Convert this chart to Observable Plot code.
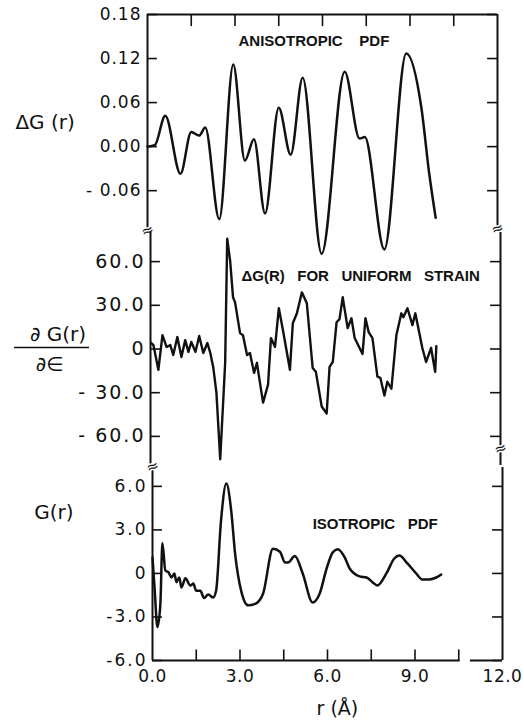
<!DOCTYPE html>
<html>
<head>
<meta charset="utf-8">
<script src="https://cdn.jsdelivr.net/npm/d3@7"></script>
<script src="https://cdn.jsdelivr.net/npm/@observablehq/plot@0.6"></script>
<style>
html, body { margin: 0; padding: 0; background: #fff; }
#chart { position: relative; width: 524px; height: 722px; overflow: hidden; background: #fff; }
#chart svg { position: absolute; left: 0; top: 0; overflow: visible; }
#chart text { white-space: pre; }
#p1 g[aria-label="y-axis tick label"] { letter-spacing: 1px; }
#p2 g[aria-label="y-axis tick label"] { letter-spacing: 2px; }
#p3 g[aria-label="y-axis tick label"] { letter-spacing: 2px; }
#p3 g[aria-label="x-axis tick label"] { letter-spacing: 0.5px; }
#chart g[aria-label="annotation"] { letter-spacing: 1.5px; }
#chart g[aria-label="ytitle"] { letter-spacing: 1.5px; }
</style>
</head>
<body>
<div id="chart"></div>
<script>
// ---------- data ----------
// x tick values / labels (shared r axis, Å)
const xMinorTicks = [1.5, 3, 4.5, 6, 7.5, 9, 10.5];
const xLabelTicks = [0, 3, 6, 9, 12];
const xTickLabels = ["0.0", "3.0", "6.0", "9.0", "12.0"];

// top panel: anisotropic PDF ΔG(r)
const anisoTicks = [0.18, 0.12, 0.06, 0, -0.06];
const anisoTickLabels = ["0.18", "0.12", "0.06", "0.00", "- 0.06"];
const anisoR = [0, 0.25, 0.61, 1.13, 1.50, 1.77, 1.98, 2.46, 2.94, 3.34, 3.65, 4.03, 4.50, 4.91,
  5.32, 5.97, 6.76, 7.27, 7.45, 8.12, 8.87, 9.39, 9.66, 9.88];
const anisoDG = [0, 0.002, 0.042, -0.037, 0.020, 0.015, 0.026, -0.099, 0.112, -0.019, 0.010, -0.091, 0.053, -0.011,
  0.094, -0.146, 0.102, 0.011, 0.013, -0.140, 0.127, 0.053, -0.037, -0.097];

// middle panel: ∂G(r)/∂ε for uniform strain
const strainTicks = [60, 30, 0, -30, -60];
const strainTickLabels = ["60.0", "30.0", "0", "- 30.0", "- 60.0"];
const strainR = [0.03, 0.10, 0.27, 0.41, 0.55, 0.68, 0.78, 0.92, 1.06, 1.19, 1.30, 1.40, 1.54, 1.67, 1.81, 1.95,
  2.05, 2.15, 2.26, 2.39, 2.49, 2.56, 2.63, 2.73, 2.83, 2.90, 3.07, 3.17, 3.31, 3.41, 3.55, 3.65, 3.72, 3.86,
  4.03, 4.13, 4.27, 4.40, 4.54, 4.78, 4.88, 5.02, 5.19, 5.36, 5.56, 5.67, 5.87, 6.04, 6.14, 6.25, 6.38, 6.48,
  6.59, 6.76, 6.89, 7.00, 7.27, 7.37, 7.48, 7.61, 7.78, 7.88, 8.02, 8.12, 8.26, 8.43, 8.60, 8.67, 8.81, 8.98,
  9.08, 9.32, 9.45, 9.62, 9.76, 9.80];
const strainDG = [4.1, 2.7, -14.3, 9.5, 1.4, 2.7, -4.1, 8.2, -5.5, 6.1, -2, 4.8, -2, 8.9, -2.7, 4.1,
  -2.7, -12.3, -30, -75.7, -36.8, -9.5, 75.7, 60.7, 35.5, 32, 10.9, 9.5, -4.1, -2.7, -16.4, -9.5, -19, -36.8,
  -24.5, 7.5, 1.4, 28, 13, -14.3, 17.7, 24.5, 38.9, 31.4, -13, -15.7, -39.5, -44.3, -12.3, -8.9, 18.4, 20.5,
  35.5, 14.3, 21.1, 7.5, -3.4, 21.1, 11.6, 7.5, -19, -19.8, -32, -22.5, -27.3, 9.5, 24.5, 21.8, 28, 16.4,
  24.5, 0.7, -8.9, 0.7, -15.7, 2];

// bottom panel: isotropic PDF G(r)
const isoTicks = [6, 3, 0, -3, -6];
const isoTickLabels = ["6.0", "3.0", "0", "-3.0", "-6.0"];
const isoR = [0, 0.07, 0.17, 0.27, 0.34, 0.44, 0.55, 0.65, 0.75, 0.82, 0.92, 0.99, 1.13, 1.30, 1.40, 1.50,
  1.64, 1.77, 1.91, 2.08, 2.18, 2.35, 2.53, 2.70, 2.83, 3.04, 3.28, 3.52, 3.79, 4.13, 4.37, 4.54, 4.65, 4.88,
  5.15, 5.49, 5.73, 5.97, 6.18, 6.35, 6.59, 6.76, 7.10, 7.34, 7.54, 7.71, 8.02, 8.29, 8.46, 8.74, 9.04, 9.25,
  9.49, 9.73, 9.90];
const isoG = [1.1, -0.97, -3.7, -2.1, 2.1, 0.2, 0.07, -0.28, 0, -0.6, -0.28, -0.97, -0.34, -0.83, -0.7, -1.2,
  -1.2, -1.7, -1.45, -1.66, -1.2, 3.66, 6.2, 4.3, 1.4, -1.2, -2.2, -2.1, -1.4, 1.7, 1.5, 0.76, 0.76, 1.2,
  0, -2.0, -1.4, 0.34, 1.45, 1.66, 1.1, 0.34, -0.2, -0.28, -0.6, -0.83, 0, 1.03, 1.24, 0.69, 0, -0.41,
  -0.41, -0.28, -0.07];

// ---------- drawing ----------
const chart = document.getElementById("chart");
const PLOT_W = 350;          // pixel width of the r = 0..12 span
const TICK = 0.34;           // inward tick length in r units (~10 px)
const FONT = "DejaVu Sans";
const INK = "#111";

function frameMarks(ticks, labels, yLo, yHi, labelSize, pad) {
  const lab = new Map(ticks.map((v, i) => [v, labels[i]]));
  return [
    Plot.ruleX([0], {y1: yLo, y2: yHi, stroke: INK, strokeWidth: 2}),
    Plot.ruleX([12], {y1: yLo, y2: yHi, stroke: INK, strokeWidth: 2}),
    Plot.ruleY(ticks, {x1: 0, x2: TICK, stroke: INK, strokeWidth: 1.6}),
    Plot.ruleY(ticks, {x1: 12 - TICK, x2: 12, stroke: INK, strokeWidth: 1.6}),
    Plot.axisY({ticks, tickSize: 0, tickPadding: pad, tickFormat: d => lab.get(d), label: null,
      fontSize: labelSize, fontFamily: FONT, fill: INK})
  ];
}

function breakMark(x, y) {
  return Plot.text(["≈"], {x, y, text: d => d, fontSize: 15, fill: INK, stroke: "white",
    strokeWidth: 3, rotate: -20, fontFamily: FONT});
}

function annotation(label, x, y) {
  return Plot.text([label], {x, y, text: d => d, textAnchor: "start", fontSize: 15, fontWeight: "bold",
    fontFamily: "Liberation Sans", fill: INK, ariaLabel: "annotation"});
}

function panel(id, o) {
  const svg = Plot.plot({
    width: 524, height: 722,
    marginLeft: o.left, marginRight: 524 - o.left - PLOT_W,
    marginTop: o.top, marginBottom: 722 - o.bottom,
    x: o.xAxis ? {domain: [0, 12]} : {domain: [0, 12], axis: null},
    y: {domain: o.yDomain},
    style: {background: "transparent", overflow: "visible", fontFamily: FONT},
    marks: o.marks
  });
  svg.id = id;
  chart.append(svg);
}

// top panel
panel("p1", {
  left: 147, top: 14, bottom: 232, yDomain: [-0.117, 0.18],
  marks: [
    ...frameMarks(anisoTicks, anisoTickLabels, -0.117, 0.18, 17, 6),
    Plot.ruleY([0.18], {x1: 0, x2: 12, stroke: INK, strokeWidth: 2}),
    Plot.ruleX(xMinorTicks, {y1: 0.18, y2: 0.1635, stroke: INK, strokeWidth: 1.6}),
    Plot.line(anisoR.map((r, i) => [r, anisoDG[i]]), {x: d => d[0], y: d => d[1],
      curve: "monotone-x", stroke: INK, strokeWidth: 2.5}),
    annotation("ANISOTROPIC    PDF", 3.12, 0.143),
    Plot.text(["ΔG (r)"], {x: -3.51, y: 0.033, text: d => d, fontSize: 20, fontFamily: FONT,
      fill: INK, ariaLabel: "ytitle"}),
    breakMark(0, -0.1143),
    breakMark(12, -0.1116)
  ]
});

// middle panel
panel("p2", {
  left: 150, top: 232, bottom: 465, yDomain: [-80, 80],
  marks: [
    ...frameMarks(strainTicks, strainTickLabels, -80, 80, 19, 5),
    Plot.line(strainR.map((r, i) => [r, strainDG[i]]), {x: d => d[0], y: d => d[1],
      curve: "linear", stroke: INK, strokeWidth: 2.4, strokeLinejoin: "round"}),
    annotation("ΔG(R)   FOR   UNIFORM   STRAIN", 3.12, 50),
    Plot.text(["∂ G(r)"], {x: -3.17, y: 10, text: d => d, fontSize: 20, fontFamily: FONT,
      fill: INK, ariaLabel: "ytitle"}),
    Plot.ruleY([1.0], {x1: -4.66, x2: -2.09, stroke: INK, strokeWidth: 1.6}),
    Plot.text(["∂∈"], {x: -3.46, y: -10.6, text: d => d, fontSize: 20, fontFamily: FONT,
      fill: INK, ariaLabel: "ytitle"}),
    breakMark(12, -68.3)
  ]
});

// bottom panel
panel("p3", {
  left: 152, top: 467, bottom: 660, yDomain: [-6, 7.3], xAxis: true,
  marks: [
    ...frameMarks(isoTicks, isoTickLabels, -6, 7.3, 17, 5),
    Plot.ruleY([-6], {x1: 0, x2: 10.55, stroke: INK, strokeWidth: 2}),
    Plot.ruleY([-6], {x1: 10.9, x2: 12, stroke: INK, strokeWidth: 2}),
    Plot.ruleX(xMinorTicks, {y1: -6, y2: -5.27, stroke: INK, strokeWidth: 1.6}),
    Plot.axisX({ticks: xLabelTicks, tickSize: 0, tickPadding: 9, label: null,
      tickFormat: d => xTickLabels[xLabelTicks.indexOf(d)], fontSize: 17, fontFamily: FONT, fill: INK}),
    Plot.line(isoR.map((r, i) => [r, isoG[i]]), {x: d => d[0], y: d => d[1],
      curve: "monotone-x", stroke: INK, strokeWidth: 2.5}),
    annotation("ISOTROPIC   PDF", 5.49, 3.37),
    Plot.text(["G(r)"], {x: -3.38, y: 4.2, text: d => d, fontSize: 20, fontFamily: FONT,
      fill: INK, ariaLabel: "ytitle"}),
    Plot.text(["r (Å)"], {x: 6.34, y: -9.31, text: d => d, fontSize: 19, fontFamily: FONT,
      fill: INK, ariaLabel: "ytitle"}),
    breakMark(0, 7.37)
  ]
});
</script>
</body>
</html>
